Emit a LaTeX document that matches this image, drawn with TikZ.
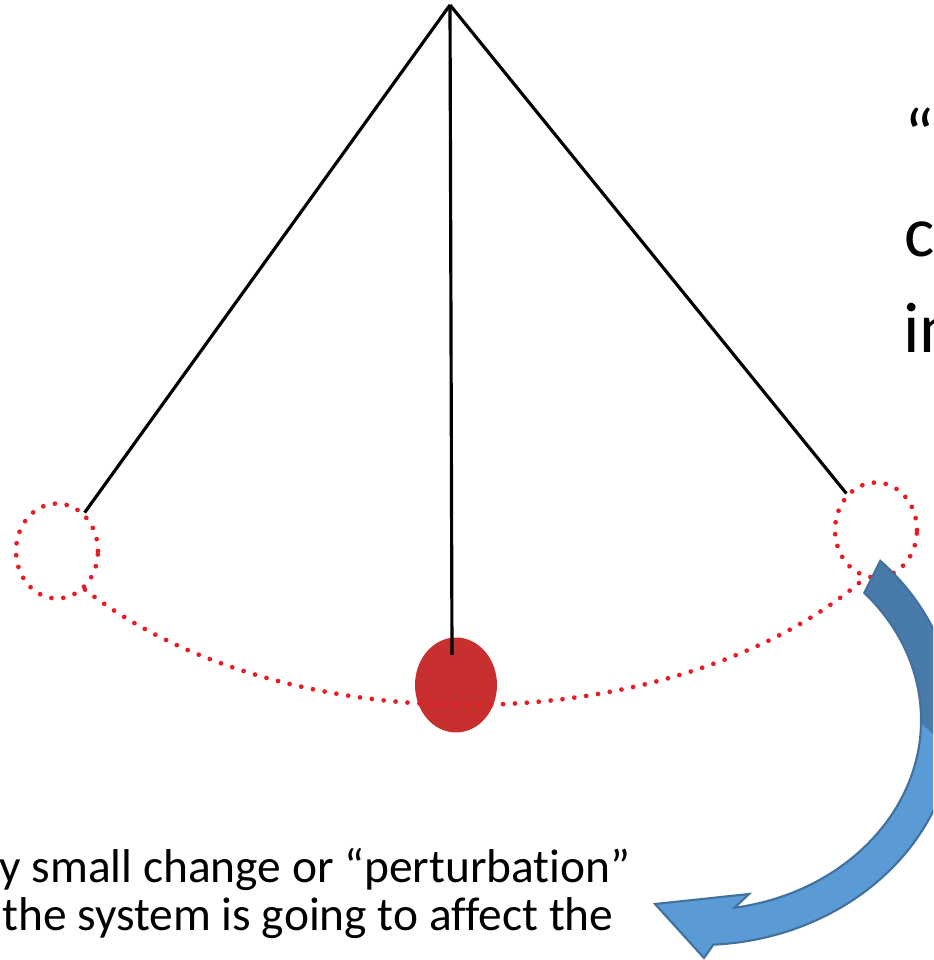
\documentclass[tikz,border=0pt]{standalone}
\usepackage{fontspec}
\setmainfont{Carlito}[Ligatures=NoCommon]
\usetikzlibrary{shapes.geometric}
\definecolor{bobred}{RGB}{200,48,48}
\definecolor{dotred}{RGB}{232,28,36}
\definecolor{arrowlight}{RGB}{91,155,213}
\definecolor{arrowdark}{RGB}{72,122,170}
\definecolor{arrowline}{RGB}{65,113,156}
% outline of the curved arrow
\newcommand{\curlpath}{(880.3,399.1) arc[start angle=45, end angle=-87, x radius=255, y radius=225]
    -- (704,2) -- (655,56) -- (749,66) -- (734.6,52.3)
    arc[start angle=-81, end angle=42, x radius=221, y radius=190] -- cycle}

\begin{document}
\begin{tikzpicture}[x=0.02cm, y=0.02cm,
    rope/.style={line width=1.8pt, black},
    dotline/.style={draw=dotred, line width=2.7pt, line cap=round, dash pattern=on 0pt off 6.8pt},
    ghostbob/.style={ellipse, dotline, minimum width=1.64cm, minimum height=1.9cm, inner sep=0pt},
    bigtext/.style={anchor=base west, inner sep=0pt, font=\fontsize{40.8}{49}\selectfont},
    smalltext/.style={anchor=base west, inner sep=0pt, font=\fontsize{27}{32}\selectfont}]
    \useasboundingbox (0,0) rectangle (933,960);
    \clip (0,0) rectangle (933,960);

    % Bob and its swing
    \coordinate (pivot) at (450,955);
    \node[ghostbob] (leftbob) at (57,409) {};
    \node[ghostbob] (rightbob) at (876,430) {};
    \node[ellipse, fill=bobred, minimum width=1.64cm, minimum height=1.9cm, inner sep=0pt] (bob) at (456,275) {};
    \coordinate (bobtop) at (452,305);
    \draw[dotline] (85.0,370.4) arc[start angle=218, end angle=325, x radius=486, y radius=300];

    % Strings
    \draw[rope] (pivot) -- (leftbob);
    \draw[rope] (pivot) -- (rightbob);
    \draw[rope] (pivot) -- (bobtop);

    % Curved arrow
    \fill[arrowlight] \curlpath;
    \fill[arrowdark] (880.3,399.1) arc[start angle=45, end angle=-8, x radius=255, y radius=225]
        -- (921,236.7) arc[start angle=-1, end angle=42, x radius=221, y radius=190] -- cycle;
    \draw[arrowline, line width=1.2pt] \curlpath;

    % Text
    \node[bigtext] (quote) at (904,800) {“};
    \node[bigtext] (bigc) at (904,703) {c};
    \node[bigtext] (bigin) at (903,607) {in};
    \node[smalltext] (lineone) at (-1,77) {y small change or “perturbation”};
    \node[smalltext] (linetwo) at (2,30) {the system is going to affect the};
\end{tikzpicture}
\end{document}
